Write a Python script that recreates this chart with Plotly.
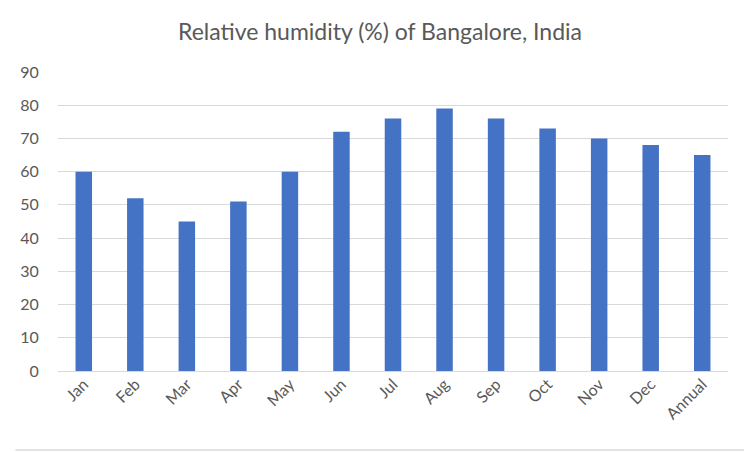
import plotly.graph_objects as go

# --- Data ---
months = ['Jan', 'Feb', 'Mar', 'Apr', 'May', 'Jun', 'Jul', 'Aug', 'Sep', 'Oct', 'Nov', 'Dec', 'Annual']
humidity = [60, 52, 45, 51, 60, 72, 76, 79, 76, 73, 70, 68, 65]
y_ticks = [0, 10, 20, 30, 40, 50, 60, 70, 80, 90]

# --- Style ---
BAR_COLOR = '#4472C4'
GRID_COLOR = '#D9D9D9'
TEXT_COLOR = '#595959'
FONT = 'Lato'

# page has an 8px body margin, so the figure starts at (8, 8)
OFF = 8
W, H = 752 - OFF, 452 - OFF
# plot area in page pixels: x 51..728, y 72..371
M_L, M_R, M_T, M_B = 51 - OFF, 752 - 728, 72 - OFF, 452 - 371
PW = W - M_L - M_R
PH = H - M_T - M_B

fig = go.Figure()
fig.add_trace(go.Bar(
    x=months,
    y=humidity,
    marker=dict(color=BAR_COLOR, line_width=0),
    showlegend=False,
))

# right and bottom edges of the chart-area border (page x=749, y=450)
x_right = (749 - OFF - M_L) / PW
y_bottom = (H - M_B - (450 - OFF)) / PH
border = [
    dict(type='line', xref='paper', yref='paper',
         x0=x_right, x1=x_right, y0=y_bottom, y1=(PH + M_T) / PH,
         line=dict(color=GRID_COLOR, width=1.5)),
    dict(type='line', xref='paper', yref='paper',
         x0=-M_L / PW, x1=x_right, y0=y_bottom, y1=y_bottom,
         line=dict(color=GRID_COLOR, width=1.5)),
]

fig.update_layout(
    width=W, height=H,
    margin=dict(l=M_L, r=M_R, t=M_T, b=M_B),
    paper_bgcolor='white',
    plot_bgcolor='white',
    bargap=0.68,
    font=dict(family=FONT, color=TEXT_COLOR, size=16),
    title=dict(
        text='Relative humidity (%) of Bangalore, India',
        x=0.5, xanchor='center', y=1 - 24 / H, yanchor='middle',
        font=dict(size=23, color=TEXT_COLOR, family=FONT),
    ),
    xaxis=dict(
        tickangle=-45,
        showgrid=False,
        showline=False,
        ticks='',
        tickfont=dict(size=16, color=TEXT_COLOR),
    ),
    yaxis=dict(
        range=[0, 90],
        tickvals=y_ticks,
        showgrid=True, gridcolor=GRID_COLOR, gridwidth=1,
        zeroline=True, zerolinecolor=GRID_COLOR, zerolinewidth=1,
        showline=False,
        ticks='outside', ticklen=15, tickcolor='white',
        tickfont=dict(size=16, color=TEXT_COLOR),
    ),
    shapes=border,
)

fig.write_html('out.html')
